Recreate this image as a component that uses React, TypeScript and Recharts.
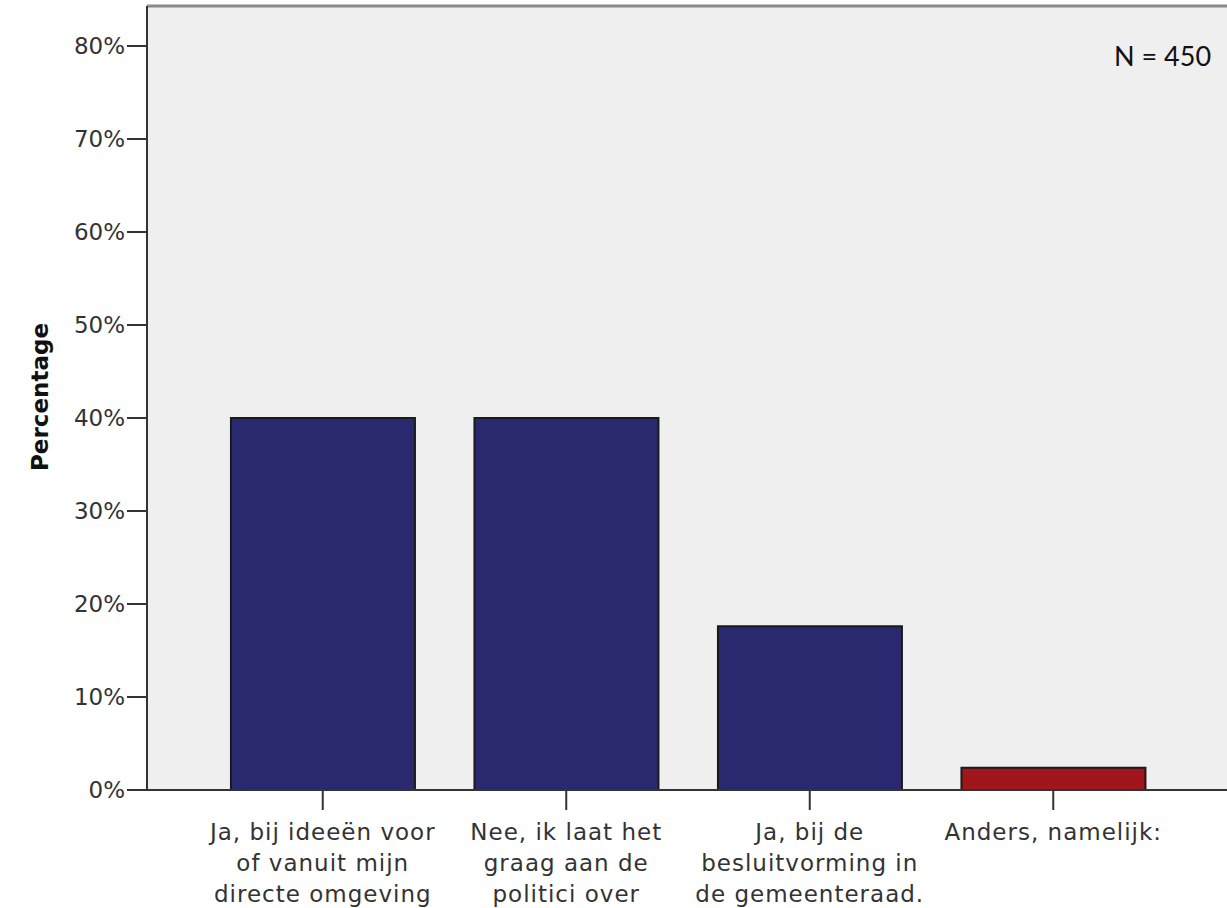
import React from "react";
import {
  Bar,
  BarChart,
  CartesianGrid,
  Cell,
  ReferenceLine,
  XAxis,
  YAxis,
} from "recharts";

// antwoordcategorieën (regels van het as-label)
const categories: string[][] = [
  ["Ja, bij ideeën voor", "of vanuit mijn", "directe omgeving"],
  ["Nee, ik laat het", "graag aan de", "politici over"],
  ["Ja, bij de", "besluitvorming in", "de gemeenteraad."],
  ["Anders, namelijk:"],
];
const percentages = [40.0, 40.0, 17.6, 2.4];
const barColors = ["#29296f", "#29296f", "#29296f", "#a0161b"];
const yTicks = [0, 10, 20, 30, 40, 50, 60, 70, 80];
const Y_MAX = 84.3;

const data = categories.map((lines, i) => ({
  key: lines.join(" "),
  lines,
  value: percentages[i],
}));

const FONT = "'DejaVu Sans', Verdana, sans-serif";

function CategoryTick(props: any) {
  const { x, y, payload, index } = props;
  const lines = data[index]?.lines ?? [String(payload.value)];
  return (
    <g transform={`translate(${x},${y})`}>
      <text
        textAnchor="middle"
        fill="#333"
        fontFamily={FONT}
        fontSize={23}
        letterSpacing={1}
      >
        {lines.map((l, i) => (
          <tspan key={i} x={0} dy={i === 0 ? 28 : 31}>
            {l}
          </tspan>
        ))}
      </text>
    </g>
  );
}

export default function App() {
  return (
    <div
      style={{
        position: "absolute",
        left: 0,
        top: 0,
        width: 1227,
        height: 908,
        background: "#fff",
      }}
    >
      <BarChart
        width={1227}
        height={908}
        data={data}
        margin={{ top: 6, right: 0, left: 0, bottom: 0 }}
        barCategoryGap="12.3%"
      >
        <CartesianGrid
          fill="#efefef"
          stroke="none"
          horizontal={false}
          vertical={false}
        />
        <XAxis
          dataKey="key"
          height={118}
          padding={{ left: 54, right: 52 }}
          tick={<CategoryTick />}
          tickSize={20}
          interval={0}
          axisLine={{ stroke: "#333", strokeWidth: 2 }}
          tickLine={{ stroke: "#333", strokeWidth: 2 }}
        />
        <YAxis
          width={147}
          domain={[0, Y_MAX]}
          ticks={yTicks}
          allowDataOverflow
          tickFormatter={(v) => `${v}%`}
          tickSize={20}
          tickMargin={2}
          tick={{ fill: "#333", fontSize: 23, fontFamily: FONT }}
          axisLine={{ stroke: "#333", strokeWidth: 2 }}
          tickLine={{ stroke: "#333", strokeWidth: 2 }}
          label={{
            content: () => (
              <text
                x={40}
                y={397}
                transform="rotate(-90 40 397)"
                textAnchor="middle"
                dominantBaseline="central"
                fontFamily={FONT}
                fontWeight="bold"
                fontSize={23}
                fill="#111"
              >
                Percentage
              </text>
            ),
          }}
        />
        <ReferenceLine
          y={Y_MAX}
          stroke="#8a8a8a"
          strokeWidth={3}
          ifOverflow="visible"
        />
        <Bar
          dataKey="value"
          stroke="#1a1a1a"
          strokeWidth={2}
          isAnimationActive={false}
        >
          {data.map((_, i) => (
            <Cell key={i} fill={barColors[i]} />
          ))}
        </Bar>
      </BarChart>
      <div
        style={{
          position: "absolute",
          left: 1114,
          top: 39,
          fontFamily: "Lato, 'Open Sans', sans-serif",
          fontSize: 27,
          color: "#111",
          whiteSpace: "nowrap",
        }}
      >
        N = 450
      </div>
    </div>
  );
}
